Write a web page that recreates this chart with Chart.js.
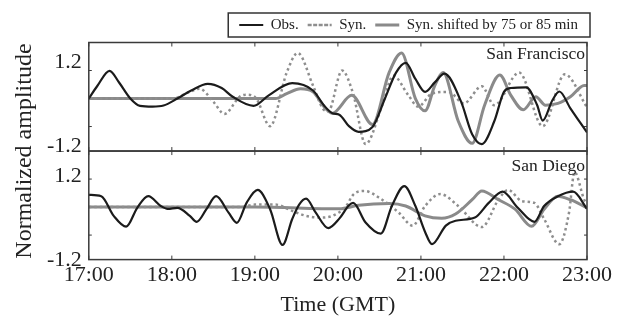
<!DOCTYPE html>
<html>
<head>
<meta charset="utf-8">
<script src="https://cdn.jsdelivr.net/npm/chart.js@4/dist/chart.umd.min.js"></script>
<style>
  html, body { margin: 0; padding: 0; background: #fff; }
</style>
</head>
<body>
<canvas id="myChart" width="619" height="322"></canvas>
<script>
// times are minutes after 17:00 GMT
var sfObsT = [0, 6, 15, 22, 30, 37, 46, 54, 64, 74, 86, 96, 104, 119, 130, 147, 162, 170, 176, 181, 188, 195, 205, 214, 222, 229, 236, 243, 250, 257, 269, 277, 284, 293, 300, 305, 316, 324, 328, 335, 340, 348, 360];
var sfObsV = [0, 0.35, 0.79, 0.45, 0, -0.21, -0.23, -0.2, 0, 0.23, 0.42, 0.3, 0.05, -0.21, 0.09, 0.44, 0.23, -0.2, -0.42, -0.46, -0.79, -0.95, -0.81, 0, 0.74, 1.02, 0.56, 0.19, 0.46, 0.71, -0.09, -1.02, -1.3, -0.65, 0.19, 0.3, 0.32, -0.19, -0.63, -0.05, 0.2, -0.28, -0.97];

var sfSynT = [0, 30, 60, 73, 80, 90, 98, 109, 114, 121, 131, 143, 151, 162, 169, 173, 183, 191, 200, 212, 220, 231, 238, 248, 260, 271, 284, 293, 311, 328, 344, 360];
var sfSynV = [0, 0, 0, 0.19, 0.28, -0.09, -0.44, 0.05, 0.11, 0, -0.79, 0.74, 1.3, 0.37, -0.28, -0.37, 0.8, 0.14, -1.3, -0.19, 0.65, 0.09, -0.23, 0.14, 0.19, -0.14, 0.35, -0.19, 0.74, -0.79, 0.69, -0.25];

var sfShiftT = [0, 60, 135, 143, 153, 162, 171, 176, 190, 205, 217, 226, 236, 243, 250, 256, 267, 277, 286, 297, 305, 314, 323, 330, 339, 348, 358, 360];
var sfShiftV = [0, 0, 0, 0.14, 0.28, 0.19, -0.28, -0.42, 0.09, -0.74, 0.74, 1.3, 0, -0.35, 0.37, 0.74, -0.65, -1.28, -0.19, 0.67, 0.09, -0.32, 0.05, -0.19, -0.14, 0.05, 0.37, 0.37];

var sdObsT = [0, 9, 18, 27, 35, 43, 52, 57, 64, 73, 78, 85, 92, 101, 107, 114, 122, 131, 140, 147, 152, 157, 164, 173, 181, 188, 191, 200, 211, 219, 228, 236, 243, 248, 258, 265, 279, 289, 299, 310, 322, 329, 339, 350, 360];
var sdObsV = [0.35, 0.31, -0.25, -0.56, -0.02, 0.31, 0.03, -0.05, -0.02, -0.25, -0.42, -0.06, 0.31, -0.16, -0.45, 0.12, 0.49, -0.06, -1.08, -0.34, 0.07, 0.24, -0.16, -0.6, -0.33, 0.05, 0.12, -0.44, -0.76, 0.03, 0.6, 0.03, -0.71, -1.06, -0.53, -0.39, -0.3, 0.12, 0.44, -0.02, -0.42, 0.03, 0.31, 0.44, -0.05];

var sdSynT = [0, 60, 110, 120, 135, 147, 157, 167, 176, 186, 191, 199, 212, 224, 234, 243, 254, 267, 284, 296, 303, 313, 322, 329, 340, 347, 351, 358, 360];
var sdSynV = [0, 0, 0, 0.07, 0.07, -0.11, -0.25, -0.3, -0.25, 0.03, 0.35, 0.46, 0.21, -0.16, -0.53, 0.03, 0.37, 0.03, -0.57, 0.21, 0.49, 0.17, 0.12, -0.34, -1.06, -0.16, 1.0, 0.21, 0.1];

var sdShiftT = [0, 60, 120, 181, 195, 217, 229, 243, 255, 265, 277, 284, 296, 308, 320, 329, 339, 348, 360];
var sdShiftV = [0, 0, 0, -0.05, 0.05, 0.1, 0.03, -0.25, -0.32, -0.2, 0.21, 0.46, 0.21, -0.06, -0.55, -0.06, 0.31, 0.21, -0.02];

var seriesNames = ['Obs.', 'Syn.', 'Syn. shifted by 75 or 85 min'];
var panelNames = ['San Francisco', 'San Diego'];
var hourLabels = ['17:00', '18:00', '19:00', '20:00', '21:00', '22:00', '23:00'];
var yTickValues = [-1.2, 1.2];
var yMinorTicks = [-0.8, 0.8];

function pts(t, v) {
  return t.map(function (m, i) { return { x: m, y: v[i] }; });
}

var obsStyle = { borderColor: '#1b1b1b', borderWidth: 2.2 };
var synStyle = { borderColor: '#8e8e8e', borderWidth: 2.5, borderDash: [2.5, 3] };
var shiftStyle = { borderColor: '#8a8a8a', borderWidth: 3 };

function line(name, t, v, axis, style) {
  return Object.assign({
    label: name,
    data: pts(t, v),
    yAxisID: axis,
    pointRadius: 0,
    fill: false,
    backgroundColor: 'rgba(0,0,0,0)',
    cubicInterpolationMode: 'monotone'
  }, style);
}

var panelFrame = {
  id: 'panelFrame',
  afterDraw: function (chart) {
    var ctx = chart.ctx, a = chart.chartArea, xs = chart.scales.x;
    ctx.save();
    ctx.strokeStyle = '#3a3a3a';
    ['yTop', 'yBot'].forEach(function (id, k) {
      var s = chart.scales[id];
      ctx.lineWidth = 1.5;
      ctx.strokeRect(a.left, s.top, a.right - a.left, s.bottom - s.top);
      ctx.beginPath();
      xs.ticks.forEach(function (t) {
        var px = xs.getPixelForValue(t.value);
        ctx.moveTo(px, s.top); ctx.lineTo(px, s.top + 4);
        ctx.moveTo(px, s.bottom); ctx.lineTo(px, s.bottom - 4);
      });
      yMinorTicks.forEach(function (v) {
        var py = s.getPixelForValue(v);
        ctx.moveTo(a.left, py); ctx.lineTo(a.left + 3, py);
        ctx.moveTo(a.right, py); ctx.lineTo(a.right - 3, py);
      });
      ctx.lineWidth = 1;
      ctx.stroke();
      ctx.fillStyle = '#222';
      ctx.font = '17.5px "Liberation Serif", serif';
      ctx.textAlign = 'right';
      ctx.textBaseline = 'middle';
      ctx.fillText(panelNames[k], a.right - 2, s.top + (k ? 15 : 12));
    });
    // frame round the legend
    var hb = chart.legend.legendHitBoxes;
    if (hb && hb.length) {
      var l = Math.min.apply(null, hb.map(function (h) { return h.left; }));
      var r = Math.max.apply(null, hb.map(function (h) { return h.left + h.width; }));
      var cy = hb[0].top + hb[0].height / 2;
      ctx.strokeStyle = '#333';
      ctx.lineWidth = 1.5;
      ctx.strokeRect(l - 11, cy - 12, r - l + 23, 24);
    }
    ctx.restore();
  }
};

Chart.defaults.font.family = '"Liberation Serif", "Times New Roman", serif';
Chart.defaults.color = '#222';

function yPanel(weight, shift) {
  return {
    position: 'left',
    stack: 'amp',
    weight: weight,
    min: -1.5,
    max: 1.6,
    afterBuildTicks: function (s) {
      s.ticks = yTickValues.map(function (v) { return { value: v }; });
    },
    afterFit: function (s) { s.width = 42; },
    ticks: {
      font: { size: 22, lineHeight: 1 },
      padding: 7,
      labelOffset: shift,
      callback: function (v) { return v.toFixed(1); }
    },
    grid: { display: false, drawTicks: false },
    border: { display: false }
  };
}

new Chart(document.getElementById('myChart'), {
  type: 'line',
  data: {
    datasets: [
      line(seriesNames[0], sfObsT, sfObsV, 'yTop', obsStyle),
      line(seriesNames[1], sfSynT, sfSynV, 'yTop', synStyle),
      line(seriesNames[2], sfShiftT, sfShiftV, 'yTop', shiftStyle),
      line(seriesNames[0], sdObsT, sdObsV, 'yBot', obsStyle),
      line(seriesNames[1], sdSynT, sdSynV, 'yBot', synStyle),
      line(seriesNames[2], sdShiftT, sdShiftV, 'yBot', shiftStyle)
    ]
  },
  options: {
    responsive: false,
    animation: false,
    layout: { padding: { top: 8.5, right: 32, left: 0, bottom: 0 } },
    plugins: {
      tooltip: { enabled: false },
      legend: {
        position: 'top',
        align: 'end',
        labels: {
          boxWidth: 24,
          boxHeight: 0,
          padding: 9,
          color: '#222',
          font: { size: 15 },
          filter: function (item) { return item.datasetIndex < 3; }
        }
      }
    },
    scales: {
      x: {
        type: 'linear',
        min: 0,
        max: 360,
        ticks: {
          stepSize: 60,
          autoSkip: false,
          maxRotation: 0,
          padding: 5,
          font: { size: 22, lineHeight: 1 },
          callback: function (v, i) { return hourLabels[i]; }
        },
        grid: { display: false, drawTicks: false },
        border: { display: false },
        title: { display: true, text: 'Time (GMT)', font: { size: 22 }, padding: { top: 0, bottom: 4 } }
      },
      yTitle: {
        position: 'left',
        weight: 10,
        ticks: { display: false },
        grid: { display: false, drawTicks: false },
        border: { display: false },
        title: { display: true, text: 'Normalized amplitude', font: { size: 24 }, padding: { top: 10, bottom: 8 } }
      },
      yTop: yPanel(2, 6),
      yBot: yPanel(1, 11)
    }
  },
  plugins: [panelFrame]
});
</script>
</body>
</html>
